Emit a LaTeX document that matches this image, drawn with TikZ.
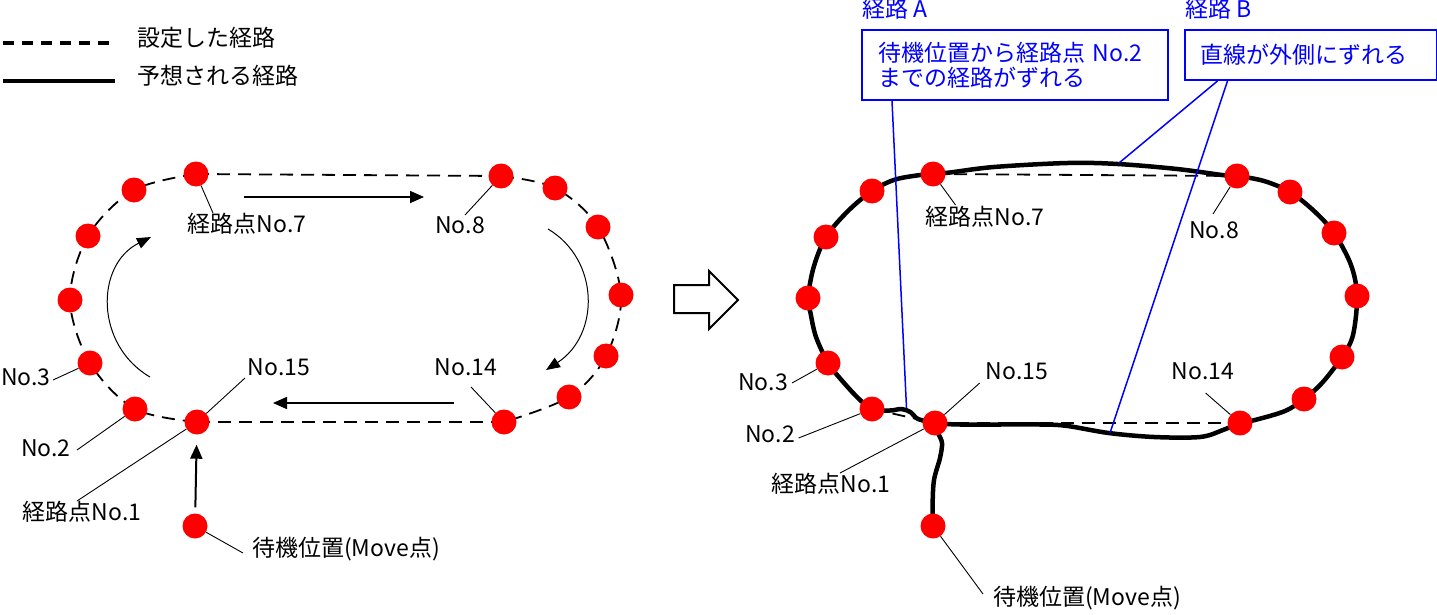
\documentclass[tikz,border=0pt]{standalone}
\usepackage{fontspec}
\newfontfamily\jp{Noto Sans CJK JP}
\usetikzlibrary{arrows.meta,calc,backgrounds}
\begin{document}
\begin{tikzpicture}[x=1pt,y=-1pt,
  dot/.style={circle,fill=red,inner sep=0pt,minimum size=25pt},
  lbl/.style={font=\jp\fontsize{23}{25}\selectfont,inner sep=0pt,text height=0.88em,text depth=0.12em},
  bluelbl/.style={lbl,text=blue},
  leader/.style={draw,line width=0.9pt},
  setpath/.style={draw,dash pattern=on 13pt off 8pt,line width=1.8pt},
  predpath/.style={draw,line width=4.5pt,line join=round,line cap=round},
  flow/.style={draw,line width=1.6pt,-{Triangle[length=14pt,width=12pt]}},
  cflow/.style={draw,line width=1pt,-{Triangle[length=14pt,width=11pt]}},
  bluebox/.style={draw=blue,line width=2pt,text=blue,font=\jp\fontsize{23}{25}\selectfont,align=left},
  blueline/.style={draw=blue,line width=1.5pt}]
\useasboundingbox (0,0) rectangle (1437,615);

% ---------------- legend ----------------
\coordinate (lg1a) at (3,43); \coordinate (lg1b) at (115,43);
\coordinate (lg2a) at (3,81); \coordinate (lg2b) at (115,81);
\draw[line width=4pt,dash pattern=on 11pt off 8pt] (lg1a) -- (lg1b);
\draw[line width=4.5pt] (lg2a) -- (lg2b);
\node[lbl,anchor=west] (lgt1) at (137,43) {設定した経路};
\node[lbl,anchor=west] (lgt2) at (137,81) {予想される経路};

% ---------------- left diagram dots ----------------
\node[dot] (L1) at (197,422) {};
\node[dot] (L2) at (135,409) {};
\node[dot] (L3) at (90,363) {};
\node[dot] (L4) at (70,300) {};
\node[dot] (L5) at (88,236) {};
\node[dot] (L6) at (134,190) {};
\node[dot] (L7) at (196,174) {};
\node[dot] (L8) at (501,176) {};
\node[dot] (L9) at (555,188) {};
\node[dot] (L10) at (598,227) {};
\node[dot] (L11) at (621,295) {};
\node[dot] (L12) at (606,356) {};
\node[dot] (L13) at (569,397) {};
\node[dot] (L14) at (504,422) {};
\node[dot] (Lmv) at (195,526) {};

% left labels
\node[lbl] (lt7) at (247,229) {経路点No.7};
\node[lbl] (lt8) at (460,230) {No.8};
\node[lbl] (lt15) at (279,372) {No.15};
\node[lbl] (lt14) at (466,372) {No.14};
\node[lbl,anchor=west] (lt3) at (1,382) {No.3};
\node[lbl] (lt2) at (46,453) {No.2};
\node[lbl] (lt1) at (82,517) {経路点No.1};
\node[lbl,anchor=west] (ltmv) at (252,553) {待機位置(Move点)};

% ---------------- right diagram dots ----------------
\node[dot] (R1) at (935,423) {};
\node[dot] (R2) at (872,409) {};
\node[dot] (R3) at (828,363) {};
\node[dot] (R4) at (808,298) {};
\node[dot] (R5) at (826,237) {};
\node[dot] (R6) at (872,191) {};
\node[dot] (R7) at (933,174) {};
\node[dot] (R8) at (1237,176) {};
\node[dot] (R9) at (1290,192) {};
\node[dot] (R10) at (1334,233) {};
\node[dot] (R11) at (1357,296) {};
\node[dot] (R12) at (1342,357) {};
\node[dot] (R13) at (1304,399) {};
\node[dot] (R14) at (1240,423) {};
\node[dot] (Rmv) at (933,526) {};

% right labels
\node[lbl] (rt7) at (985,222) {経路点No.7};
\node[lbl] (rt8) at (1214,235) {No.8};
\node[lbl] (rt3) at (763,387) {No.3};
\node[lbl] (rt2) at (770,439) {No.2};
\node[lbl] (rt1) at (831,489) {経路点No.1};
\node[lbl] (rt15) at (1017,376) {No.15};
\node[lbl] (rt14) at (1203,376) {No.14};
\node[lbl] (rtmv) at (1087,602) {待機位置(Move点)};

% blue annotations
\node[bluelbl,anchor=west] (labA) at (862,14) {経路 A};
\node[bluelbl,anchor=west] (labB) at (1185,14) {経路 B};
\node[bluebox,anchor=north west,minimum width=306pt,minimum height=70pt,
      text width=274pt,inner xsep=16pt,inner ysep=0pt] (boxA) at (861,29)
      {待機位置から経路点 No.2\\までの経路がずれる};
\node[bluebox,anchor=north west,minimum width=252pt,minimum height=50pt,
      text width=222pt,inner xsep=15pt,inner ysep=0pt] (boxB) at (1184,29)
      {直線が外側にずれる};

% hollow arrow between the diagrams
\draw[line width=2pt,line join=miter,fill=white]
  (674,285) -- (709,285) -- (709,271) -- (738,300) -- (709,329) -- (709,313) -- (674,313) -- cycle;

\begin{scope}[on background layer]
  % left set path (dashed)
  \draw[setpath] plot[smooth,tension=0.55] coordinates {(L7.center) (L6.center) (L5.center) (L4.center) (L3.center) (L2.center) (L1.center)};
  \draw[setpath] plot[smooth,tension=0.55] coordinates {(L8.center) (L9.center) (L10.center) (L11.center) (L12.center) (L13.center) (L14.center)};
  \draw[setpath] (L7.center) -- (L8.center);
  \draw[setpath] (L14.center) -- (L1.center);

  % left flow arrows
  \coordinate (fa1) at (244,197); \coordinate (fa2) at (424,197);
  \coordinate (fb1) at (454,403); \coordinate (fb2) at (273,403);
  \draw[flow] (fa1) -- (fa2);
  \draw[flow] (fb1) -- (fb2);
  \draw[flow,line width=2pt,shorten <=6pt,shorten >=10pt] (Lmv) -- (L1);
  \coordinate (ca1) at (150,377); \coordinate (ca2) at (151,237);
  \coordinate (cb1) at (548,229); \coordinate (cb2) at (546,370);
  \draw[cflow] (ca1) .. controls (95,345) and (95,265) .. (ca2);
  \draw[cflow] (cb1) .. controls (600,260) and (600,335) .. (cb2);

  % left leaders
  \coordinate (k7) at (213,213);  \draw[leader] (L7) -- (k7);
  \coordinate (k8) at (465,215);  \draw[leader] (L8) -- (k8);
  \coordinate (k15) at (245,378); \draw[leader] (L1) -- (k15);
  \coordinate (k14) at (471,387); \draw[leader] (L14) -- (k14);
  \coordinate (k3) at (53,380);   \draw[leader] (L3) -- (k3);
  \coordinate (k2) at (77,450);   \draw[leader] (L2) -- (k2);
  \coordinate (k1) at (77,501);   \draw[leader] (L1) -- (k1);
  \coordinate (kmv) at (243,553); \draw[leader] (Lmv) -- (kmv);

  % right set path (dashed)
  \draw[setpath] (R2.center) -- (R1.center);
  \draw[setpath] (R7.center) -- (R8.center);
  \draw[setpath] (R1.center) -- (R14.center);

  % right predicted path (solid)
  \draw[predpath] plot[smooth,tension=0.55] coordinates {(Rmv.center) (932.6,505) (934,480) (940,458) (942,443) (938,433) (R1.center)};
  \draw[predpath] plot[smooth,tension=0.55] coordinates {(R1.center) (918,419) (911,412.5) (901.7,409) (890,410.5) (R2.center)
     (857,397) (838,376) (R3.center) (816,337) (810.5,313) (R4.center) (813.7,267) (R5.center) (848,211) (R6.center)
     (893.8,180) (916.6,175.5) (R7.center) (950,172.5) (994,167) (1067.5,163) (1117.8,164) (1177,169) (1222,175) (R8.center)
     (1264,181) (R9.center) (1314,211) (R10.center) (1351,265) (R11.center) (1353,335) (R12.center) (1322,383) (R13.center)
     (1285,411) (1255,420) (R14.center) (1223,430) (1200,437) (1154,437) (1108.6,433) (1067.5,426) (1040,424.5) (960,424.5) (R1.center)};

  % right leaders
  \coordinate (m7) at (955.5,205);  \draw[leader] (R7) -- (m7);
  \coordinate (m8) at (1213,214);   \draw[leader] (R8) -- (m8);
  \coordinate (m3) at (792,383);    \draw[leader] (R3) -- (m3);
  \coordinate (m2) at (798.6,438);  \draw[leader] (R2) -- (m2);
  \coordinate (m1) at (840,473);    \draw[leader] (R1) -- (m1);
  \coordinate (m15) at (979.7,383); \draw[leader] (R1) -- (m15);
  \coordinate (m14) at (1205.6,393);\draw[leader] (R14) -- (m14);
  \coordinate (mmv) at (983,594);   \draw[leader] (Rmv) -- (mmv);
\end{scope}

% blue pointer lines
\coordinate (pA) at (906.5,408);
\coordinate (pB1) at (1119,163);
\coordinate (pB2) at (1110,433);
\draw[blueline] ($(boxA.south west)+(31,0)$) -- (pA);
\draw[blueline] ($(boxB.south west)+(33.5,0)$) -- (pB1);
\draw[blueline] ($(boxB.south west)+(43.5,0)$) -- (pB2);
\end{tikzpicture}
\end{document}
